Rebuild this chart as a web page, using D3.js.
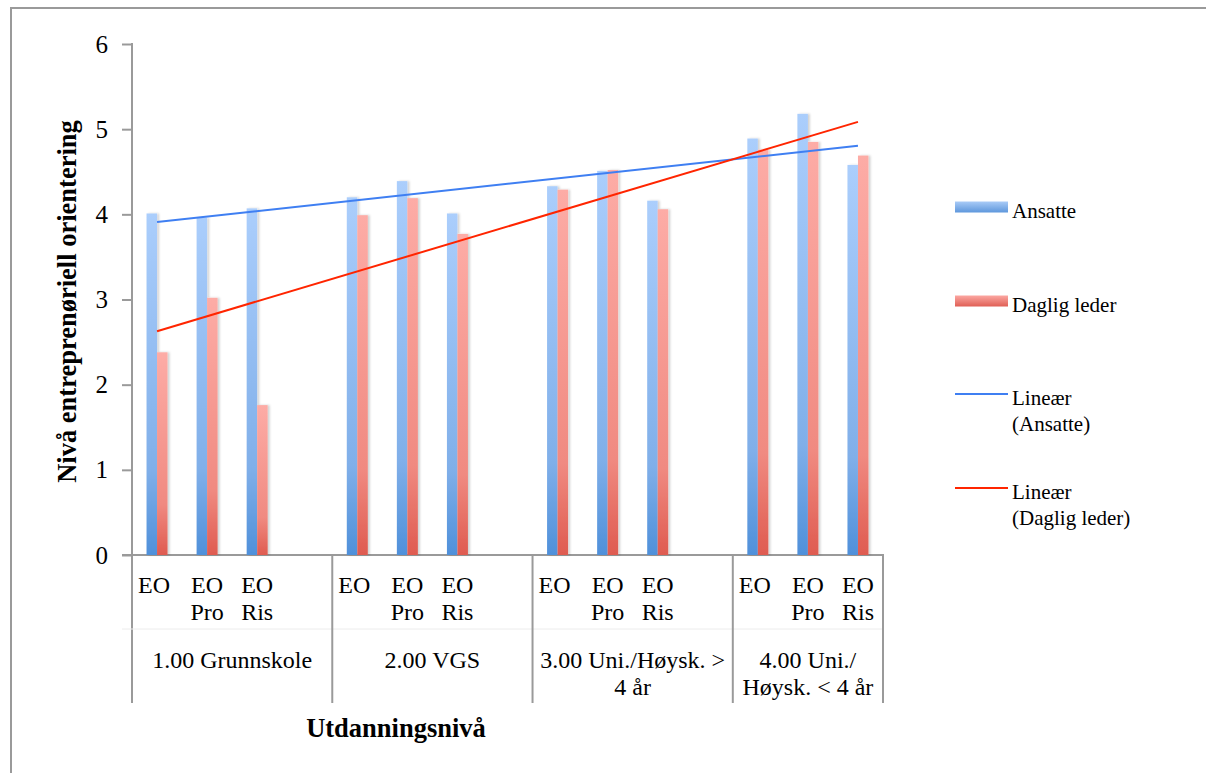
<!DOCTYPE html>
<html>
<head>
<meta charset="utf-8">
<script src="https://cdn.jsdelivr.net/npm/d3@7"></script>
<style>
  body { margin: 0; background: #fff; }
</style>
</head>
<body>
<svg id="chart" width="1206" height="773"></svg>
<script>
// data
const groups = [["1.00 Grunnskole"], ["2.00 VGS"], ["3.00 Uni./Høysk. >", "4 år"], ["4.00 Uni./", "Høysk. < 4 år"]]
const measures = [["EO"], ["EO", "Pro"], ["EO", "Ris"]]
const ansatte = [4.01, 3.96, 4.07, 4.20, 4.39, 4.01, 4.33, 4.51, 4.16, 4.89, 5.18, 4.58]
const dagligLeder = [2.38, 3.02, 1.76, 3.99, 4.19, 3.77, 4.29, 4.52, 4.06, 4.76, 4.85, 4.69]
const yTicks = [0, 1, 2, 3, 4, 5, 6]
const seriesNames = ["Ansatte", "Daglig leder"]
const trendNames = [["Lineær", "(Ansatte)"], ["Lineær", "(Daglig leder)"]]

const FONT = 'Liberation Serif'
const plot = {left: 132, right: 883, top: 44, bottom: 555}

const svg = d3.select('#chart')

// outer frame (top + left only visible)
svg.append('path')
  .attr('d', 'M11,1206 L11,8 L1206,8')
  .attr('fill', 'none')
  .attr('stroke', '#9a9a9a')
  .attr('stroke-width', 2)

const defs = svg.append('defs')
function grad(id, stops) {
  const g = defs.append('linearGradient').attr('id', id)
    .attr('x1', 0).attr('y1', 0).attr('x2', 0).attr('y2', 1)
  stops.forEach(s => g.append('stop').attr('offset', s[0]).attr('stop-color', s[1]))
}
grad('gBlue', [[0, '#abcefc'], [0.75, '#80afe9'], [1, '#4f90da']])
grad('gRed', [[0, '#fdaca6'], [0.75, '#f08a81'], [1, '#df5b50']])
grad('lgBlue', [[0, '#a9cbf7'], [1, '#5e97dc']])
grad('lgRed', [[0, '#fca7a2'], [1, '#df5f55']])
defs.append('filter').attr('id', 'shadow')
  .attr('x', '-50%').attr('width', '200%')
  .append('feDropShadow')
    .attr('dx', 2).attr('dy', 0).attr('stdDeviation', 1.2)
    .attr('flood-color', '#000').attr('flood-opacity', 0.18)

// slots: 3 measures per group, blank slot between groups
const slots = []
groups.forEach((g, gi) => {
  measures.forEach((m, mi) => slots.push({key: `${gi}-${mi}`, gi, mi, idx: gi * 3 + mi}))
  if (gi < groups.length - 1) slots.push({key: `${gi}-gap`, gi, gap: true})
})
slots.forEach((s, i) => s.pos = i + 1)

const xScale = d3.scaleBand()
  .domain(slots.map(s => s.key))
  .range([plot.left, plot.right])
  .padding(0)

const yScale = d3.scaleLinear()
  .domain([0, 6])
  .range([plot.bottom, plot.top])

const barW = 10.5
const xInner = d3.scaleBand()
  .domain(seriesNames)
  .range([-barW, barW])

// y axis
const yAxis = svg.append('g')
  .attr('transform', `translate(${plot.left},0)`)
  .call(d3.axisLeft(yScale).tickValues(yTicks).tickSize(10).tickPadding(14).tickFormat(d3.format('d')))
yAxis.select('.domain').remove()
yAxis.selectAll('line').attr('stroke', '#9a9a9a').attr('stroke-width', 2)
yAxis.selectAll('text')
  .attr('font-size', 25)
  .attr('fill', '#000')

svg.append('line')
  .attr('x1', plot.left).attr('x2', plot.left)
  .attr('y1', plot.top - 1).attr('y2', 703)
  .attr('stroke', '#9a9a9a').attr('stroke-width', 2)

// x axis line and group separators
svg.append('line')
  .attr('x1', plot.left - 10).attr('x2', plot.right + 1)
  .attr('y1', plot.bottom).attr('y2', plot.bottom)
  .attr('stroke', '#9a9a9a').attr('stroke-width', 2)
svg.append('line')
  .attr('x1', plot.left - 10).attr('x2', plot.right)
  .attr('y1', 629).attr('y2', 629)
  .attr('stroke', '#ececec').attr('stroke-width', 1)

const groupEdges = groups.map((g, gi) => {
  const gs = slots.filter(s => s.gi === gi)
  return {gi, x0: xScale(gs[0].key), x1: xScale(gs[gs.length - 1].key) + xScale.bandwidth()}
})
svg.append('g').selectAll('line')
  .data(groupEdges)
  .join('line')
    .attr('x1', d => d.x1).attr('x2', d => d.x1)
    .attr('y1', plot.bottom).attr('y2', 703)
    .attr('stroke', '#9a9a9a').attr('stroke-width', 2)

// bars
const barData = []
slots.filter(s => !s.gap).forEach(s => {
  barData.push({slot: s, series: 'Ansatte', value: ansatte[s.idx], fill: 'url(#gBlue)'})
  barData.push({slot: s, series: 'Daglig leder', value: dagligLeder[s.idx], fill: 'url(#gRed)'})
})
svg.append('g')
  .attr('filter', 'url(#shadow)')
  .selectAll('rect')
  .data(barData)
  .join('rect')
    .attr('x', d => xScale(d.slot.key) + xScale.bandwidth() / 2 + xInner(d.series))
    .attr('y', d => yScale(d.value))
    .attr('width', xInner.bandwidth())
    .attr('height', d => yScale(0) - yScale(d.value))
    .attr('fill', d => d.fill)

// linear trend lines (least squares over slot positions)
function trend(values) {
  const pts = slots.filter(s => !s.gap).map(s => [s.pos, values[s.idx]])
  const mx = d3.mean(pts, p => p[0]), my = d3.mean(pts, p => p[1])
  const b = d3.sum(pts, p => (p[0] - mx) * (p[1] - my)) / d3.sum(pts, p => (p[0] - mx) ** 2)
  const a = my - b * mx
  const first = slots[0], last = slots[slots.length - 1]
  return [first, last].map(s => [xScale(s.key) + xScale.bandwidth() / 2, yScale(a + b * s.pos)])
}
const line = d3.line()
svg.append('path').attr('d', line(trend(ansatte)))
  .attr('stroke', '#3f7ff2').attr('stroke-width', 2).attr('fill', 'none')
svg.append('path').attr('d', line(trend(dagligLeder)))
  .attr('stroke', '#ff2500').attr('stroke-width', 2).attr('fill', 'none')

// category labels
const catLabels = svg.append('g')
  .attr('font-size', 24)
  .attr('text-anchor', 'middle')
slots.filter(s => !s.gap).forEach(s => {
  const cx = xScale(s.key) + xScale.bandwidth() / 2 - (s.mi === 0 ? 3 : 0)
  const t = catLabels.append('text').attr('y', 593)
  measures[s.mi].forEach((ln, i) => t.append('tspan')
    .attr('x', cx)
    .attr('dy', i === 0 ? 0 : 27).text(ln))
})
groupEdges.forEach(e => {
  const t = catLabels.append('text').attr('y', 668)
  groups[e.gi].forEach((ln, i) => t.append('tspan')
    .attr('x', (e.x0 + e.x1) / 2)
    .attr('dy', i === 0 ? 0 : 27).text(ln))
})

// axis titles
svg.append('text')
  .attr('transform', `translate(76, ${(plot.top + plot.bottom) / 2 + 2}) rotate(-90)`)
  .attr('text-anchor', 'middle')
  .attr('font-size', 26.5)
  .attr('font-weight', 'bold')
  .text('Nivå entreprenøriell orientering')

svg.append('text')
  .attr('x', 396)
  .attr('y', 737)
  .attr('text-anchor', 'middle')
  .attr('font-size', 26.5)
  .attr('font-weight', 'bold')
  .text('Utdanningsnivå')

// legend
const legendItems = [
  {type: 'bar', fill: 'url(#lgBlue)', y: 207, lines: [seriesNames[0]]},
  {type: 'bar', fill: 'url(#lgRed)', y: 301, lines: [seriesNames[1]]},
  {type: 'line', stroke: '#3f7ff2', y: 394, lines: trendNames[0]},
  {type: 'line', stroke: '#ff2500', y: 488, lines: trendNames[1]}
]
const legend = svg.append('g')
legendItems.forEach(it => {
  if (it.type === 'bar') {
    legend.append('rect')
      .attr('x', 955).attr('y', it.y - 5.5)
      .attr('width', 53).attr('height', 11)
      .attr('fill', it.fill)
  } else {
    legend.append('line')
      .attr('x1', 955).attr('x2', 1008)
      .attr('y1', it.y).attr('y2', it.y)
      .attr('stroke', it.stroke).attr('stroke-width', 2)
  }
  const t = legend.append('text')
    .attr('font-size', 21)
    .attr('y', it.y + 11)
  it.lines.forEach((ln, i) => t.append('tspan')
    .attr('x', 1012).attr('dy', i === 0 ? 0 : 26).text(ln))
})

svg.selectAll('text').style('font-family', FONT)
</script>
</body>
</html>
